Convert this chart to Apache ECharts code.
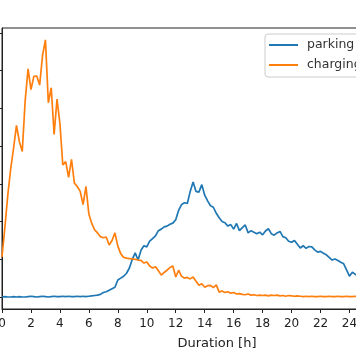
<!DOCTYPE html>
<html>
<head>
<meta charset="utf-8">
<script src="https://cdn.jsdelivr.net/npm/echarts@6/dist/echarts.min.js"></script>
<style>html,body{margin:0;padding:0;background:#fff}#c{width:356px;height:364px}</style>
</head>
<body>
<div id="c"></div>
<script>
const hours = [0.0,0.2,0.4,0.6,0.8,1.0,1.2,1.4,1.6,1.8,2.0,2.2,2.4,2.6,2.8,3.0,3.2,3.4,3.6,3.8,
4.0,4.2,4.4,4.6,4.8,5.0,5.2,5.4,5.6,5.8,6.0,6.2,6.4,6.6,6.8,7.0,7.2,7.4,7.6,7.8,
8.0,8.2,8.4,8.6,8.8,9.0,9.2,9.4,9.6,9.8,10.0,10.2,10.4,10.6,10.8,11.0,11.2,11.4,11.6,11.8,
12.0,12.2,12.4,12.6,12.8,13.0,13.2,13.4,13.6,13.8,14.0,14.2,14.4,14.6,14.8,15.0,15.2,15.4,15.6,15.8,
16.0,16.2,16.4,16.6,16.8,17.0,17.2,17.4,17.6,17.8,18.0,18.2,18.4,18.6,18.8,19.0,19.2,19.4,19.6,19.8,
20.0,20.2,20.4,20.6,20.8,21.0,21.2,21.4,21.6,21.8,22.0,22.2,22.4,22.6,22.8,23.0,23.2,23.4,23.6,23.8,
24.0,24.2,24.4,24.6];
const parking = [0.00,0.01,0.00,0.00,0.01,0.00,0.01,0.00,0.00,0.01,0.02,0.01,0.00,0.01,0.02,0.01,0.00,0.01,0.02,0.01,
0.01,0.02,0.01,0.02,0.01,0.01,0.02,0.01,0.02,0.01,0.02,0.03,0.04,0.05,0.07,0.12,0.14,0.18,0.22,0.26,
0.45,0.50,0.55,0.63,0.77,1.00,1.17,0.98,1.24,1.36,1.33,1.48,1.55,1.62,1.76,1.80,1.86,1.88,1.93,1.96,
2.05,2.30,2.45,2.50,2.48,2.80,3.05,2.80,2.78,2.98,2.70,2.55,2.42,2.38,2.22,2.10,2.00,1.97,1.88,1.92,
1.80,1.95,1.76,1.84,1.91,1.70,1.76,1.72,1.68,1.72,1.65,1.75,1.81,1.68,1.64,1.70,1.74,1.60,1.57,1.48,
1.45,1.50,1.40,1.30,1.36,1.29,1.34,1.33,1.25,1.19,1.21,1.16,1.12,1.05,0.98,1.01,0.97,0.92,0.88,0.72,
0.55,0.66,0.60,0.55];
const charging = [1.06,1.85,2.70,3.40,3.95,4.55,4.12,3.86,5.20,6.05,5.50,5.85,5.86,5.62,6.40,6.82,5.15,5.55,4.31,5.25,
4.60,3.50,3.59,3.17,3.65,3.02,2.93,2.80,2.45,2.93,2.20,1.95,1.78,1.70,1.60,1.57,1.59,1.38,1.50,1.70,
1.35,1.15,1.05,1.03,1.02,1.01,1.00,0.98,0.97,0.90,0.93,0.82,0.77,0.80,0.70,0.58,0.65,0.71,0.78,0.82,
0.53,0.71,0.55,0.50,0.52,0.48,0.53,0.42,0.31,0.35,0.26,0.30,0.31,0.25,0.32,0.13,0.16,0.12,0.14,0.10,
0.12,0.08,0.09,0.07,0.06,0.08,0.05,0.06,0.04,0.05,0.04,0.05,0.03,0.05,0.04,0.05,0.03,0.04,0.02,0.04,
0.03,0.02,0.03,0.02,0.01,0.02,0.01,0.02,0.01,0.01,0.02,0.01,0.01,0.02,0.01,0.01,0.02,0.01,0.01,0.02,
0.01,0.01,0.02,0.01];
const xTicks = [0,2,4,6,8,10,12,14,16,18,20,22,24,26,28];
const yTicks = [0,1,2,3,4,5,6,7];

const font = 'DejaVu Sans';
const chart = echarts.init(document.getElementById('c'), null, {renderer: 'canvas'});
chart.setOption({
  animation: false,
  backgroundColor: '#fff',
  grid: {left: 2, top: 28, right: -76, bottom: 55, show: true, borderColor: '#222', borderWidth: 1, backgroundColor: 'transparent', containLabel: false, outerBoundsMode: 'none'},
  legend: {
    orient: 'vertical', left: 265, top: 34,
    padding: [4, 6, 5, 4], itemWidth: 29, itemHeight: 2, itemGap: 6,
    icon: 'rect',
    backgroundColor: 'rgba(255,255,255,0.8)', borderColor: '#cccccc', borderWidth: 1, borderRadius: 3,
    textStyle: {fontFamily: font, fontSize: 12.5, color: '#333', padding: [0, 0, 0, 4], lineHeight: 14},
    data: ['parking', 'charging']
  },
  xAxis: {
    type: 'value', min: 0, max: 29.7,
    name: 'Duration [h]', nameLocation: 'middle', nameGap: 28,
    nameTextStyle: {fontFamily: font, fontSize: 13, color: '#222'},
    axisLine: {show: true, onZero: false, lineStyle: {color: '#222', width: 1}},
    axisTick: {show: true, length: 4, lineStyle: {color: '#222'}, customValues: xTicks},
    axisLabel: {fontFamily: font, fontSize: 12, color: '#222', margin: 9, customValues: xTicks},
    splitLine: {show: false}
  },
  yAxis: {
    type: 'value', min: -0.318, max: 7.133,
    axisLine: {show: true, onZero: false, lineStyle: {color: '#222', width: 1}},
    axisTick: {show: true, length: 4, lineStyle: {color: '#222'}, customValues: yTicks},
    axisLabel: {show: false},
    splitLine: {show: false}
  },
  series: [
    {name: 'parking', type: 'line', symbol: 'none', data: hours.map((h, i) => [h, parking[i]]),
     lineStyle: {color: '#1f77b4', width: 1.7}, itemStyle: {color: '#1f77b4'}},
    {name: 'charging', type: 'line', symbol: 'none', data: hours.map((h, i) => [h, charging[i]]),
     lineStyle: {color: '#ff7f0e', width: 1.7}, itemStyle: {color: '#ff7f0e'}}
  ]
});
</script>
</body>
</html>
